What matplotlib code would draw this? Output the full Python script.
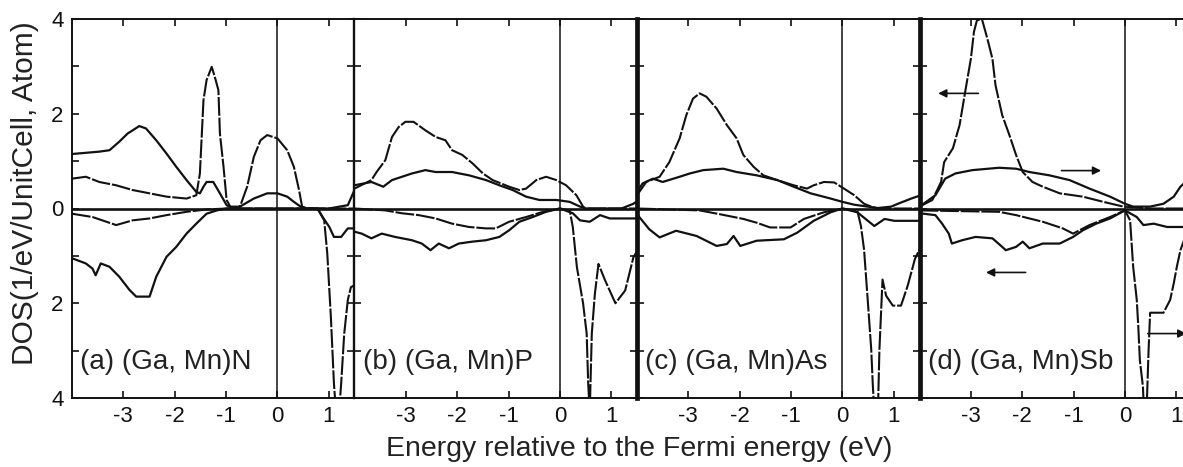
import matplotlib
matplotlib.use("Agg")
import matplotlib.pyplot as plt

plt.rcParams['font.family'] = ['Liberation Sans', 'DejaVu Sans']
plt.rcParams['axes.unicode_minus'] = False

# ---- panel (a) (Ga, Mn)N ----
a_up_tot_e = [-4.0, -3.47, -3.27, -3.08, -2.92, -2.69, -2.56, -2.36, -2.16, -1.97, -1.77, -1.58, -1.51, -1.44,
              -1.38, -1.25, -1.12, -0.99, -0.86, -0.73, -0.46, -0.2, 0.0, 0.19, 0.32, 0.45, 0.58, 1.0, 1.37, 1.5]
a_up_tot = [1.15, 1.2, 1.23, 1.41, 1.58, 1.74, 1.69, 1.44, 1.16, 0.88, 0.6, 0.35, 0.32, 0.46,
            0.56, 0.56, 0.32, 0.07, 0.0, 0.04, 0.21, 0.32, 0.32, 0.25, 0.14, 0.04, 0.0, 0.0, 0.07, 0.39]
a_up_mn_e = [-4.0, -3.73, -3.47, -3.14, -2.82, -2.49, -2.16, -1.77, -1.58, -1.51, -1.44, -1.38, -1.28, -1.22,
             -1.15, -1.12, -1.05, -0.99, -0.92, -0.73, -0.59, -0.46, -0.33, -0.2, 0.0, 0.19, 0.32, 0.42, 0.48, 0.58, 1.5]
a_up_mn = [0.63, 0.67, 0.56, 0.49, 0.39, 0.32, 0.25, 0.21, 0.28, 0.74, 2.29, 2.71, 2.99, 2.78,
           2.5, 1.58, 0.88, 0.18, 0.04, 0.04, 0.46, 1.09, 1.44, 1.55, 1.48, 1.23, 0.88, 0.39, 0.04, 0.0, 0.0]
a_dn_tot_e = [-4.0, -3.73, -3.6, -3.54, -3.44, -3.27, -3.08, -2.88, -2.75, -2.49, -2.36, -2.16, -1.97, -1.77,
              -1.58, -1.38, -1.18, -0.99, 0.78, 0.88, 1.01, 1.1, 1.24, 1.37, 1.5]
a_dn_tot = [-1.05, -1.16, -1.27, -1.41, -1.16, -1.23, -1.44, -1.72, -1.86, -1.86, -1.44, -1.02, -0.81, -0.53,
            -0.32, -0.11, -0.04, 0.0, 0.0, -0.18, -0.39, -0.6, -0.6, -0.42, -0.42]
a_dn_mn_e = [-4.0, -3.6, -3.14, -2.82, -2.49, -2.16, -1.77, -1.38, -0.99, 0.78, 0.91, 0.97, 1.04, 1.1,
             1.14, 1.2, 1.24, 1.3, 1.37, 1.43, 1.5]
a_dn_mn = [-0.11, -0.18, -0.35, -0.25, -0.21, -0.14, -0.07, -0.02, 0.0, 0.0, -0.25, -0.95, -2.29, -3.7,
           -4.3, -4.3, -3.7, -2.64, -1.93, -1.66, -1.62]

# ---- panel (b) (Ga, Mn)P ----
b_up_tot_e = [-4.0, -3.67, -3.44, -3.27, -2.88, -2.62, -2.42, -2.1, -1.77, -1.44, -1.18, -0.92, -0.66, -0.4,
              -0.07, 0.19, 0.39, 0.5, 1.2, 1.43, 1.5]
b_up_tot = [0.49, 0.56, 0.46, 0.6, 0.74, 0.81, 0.77, 0.77, 0.7, 0.6, 0.49, 0.39, 0.25, 0.18,
            0.18, 0.14, 0.04, 0.0, 0.0, 0.1, 0.15]
b_up_mn_e = [-4.0, -3.67, -3.57, -3.4, -3.27, -3.14, -3.01, -2.85, -2.62, -2.42, -2.23, -2.1, -1.9, -1.7,
             -1.5, -1.31, -0.99, -0.79, -0.66, -0.46, -0.27, -0.07, 0.12, 0.32, 0.45, 0.5, 1.5]
b_up_mn = [0.42, 0.6, 0.77, 1.02, 1.51, 1.72, 1.83, 1.83, 1.65, 1.51, 1.44, 1.23, 1.13, 0.95,
           0.74, 0.6, 0.46, 0.39, 0.42, 0.6, 0.67, 0.6, 0.49, 0.28, 0.04, 0.0, 0.0]
b_dn_tot_e = [-4.0, -3.86, -3.67, -3.47, -3.21, -2.88, -2.69, -2.52, -2.36, -2.16, -1.97, -1.71, -1.44, -1.18,
              -0.99, -0.79, -0.53, -0.27, 0.0, 0.25, 0.39, 0.58, 0.78, 0.97, 1.5]
b_dn_tot = [-0.49, -0.53, -0.63, -0.53, -0.6, -0.67, -0.74, -0.88, -0.74, -0.84, -0.74, -0.7, -0.67, -0.6,
            -0.46, -0.28, -0.18, -0.07, 0.0, -0.1, -0.25, -0.28, -0.14, -0.21, -0.21]
b_dn_mn_e = [-4.0, -3.4, -3.08, -2.75, -2.42, -2.1, -1.77, -1.44, -1.25, -0.99, -0.66, -0.33, 0.0, 0.19,
             0.25, 0.33, 0.45, 0.52, 0.55, 0.58, 0.62, 0.68, 0.75, 0.88, 1.08, 1.27, 1.43, 1.5]
b_dn_mn = [0.0, -0.04, -0.1, -0.14, -0.21, -0.32, -0.39, -0.42, -0.42, -0.28, -0.18, -0.07, 0.0, -0.04,
           -0.39, -1.24, -2.0, -2.64, -3.7, -4.3, -2.64, -1.8, -1.17, -1.52, -2.0, -1.73, -1.03, -0.9]

# ---- panel (c) (Ga, Mn)As ----
c_up_tot_e = [-4.0, -3.89, -3.69, -3.5, -3.17, -2.97, -2.71, -2.32, -2.06, -1.67, -1.27, -0.95, -0.62, -0.23,
              0.0, 0.23, 0.49, 0.69, 0.95, 1.08, 1.34, 1.5]
c_up_tot = [0.35, 0.53, 0.63, 0.56, 0.67, 0.74, 0.81, 0.84, 0.77, 0.7, 0.6, 0.46, 0.32, 0.21,
            0.14, 0.08, 0.04, 0.01, 0.04, 0.1, 0.21, 0.27]
c_up_mn_e = [-4.0, -3.82, -3.56, -3.37, -3.17, -3.04, -2.91, -2.78, -2.65, -2.45, -2.25, -2.06, -1.93, -1.73,
             -1.54, -1.27, -0.95, -0.69, -0.56, -0.36, -0.16, 0.03, 0.23, 0.42, 0.56, 0.69, 1.5]
c_up_mn = [0.28, 0.56, 0.67, 0.98, 1.48, 1.97, 2.32, 2.43, 2.36, 2.11, 1.76, 1.48, 1.13, 0.88,
           0.7, 0.6, 0.49, 0.42, 0.49, 0.56, 0.55, 0.42, 0.28, 0.1, 0.04, 0.0, 0.0]
c_dn_tot_e = [-4.0, -3.76, -3.56, -3.24, -2.84, -2.45, -2.25, -2.12, -1.99, -1.67, -1.14, -0.88, -0.56, -0.23,
              0.0, 0.29, 0.62, 0.82, 1.01, 1.5]
c_dn_tot = [-0.12, -0.44, -0.61, -0.47, -0.58, -0.79, -0.75, -0.58, -0.79, -0.68, -0.65, -0.51, -0.26, -0.08,
            0.0, -0.08, -0.37, -0.22, -0.26, -0.26]
c_dn_mn_e = [-4.0, -2.78, -2.39, -1.93, -1.67, -1.41, -1.01, -0.75, -0.36, 0.0, 0.29, 0.36, 0.42, 0.49,
             0.56, 0.59, 0.62, 0.69, 0.72, 0.78, 0.85, 0.98, 1.14, 1.27, 1.41, 1.5]
c_dn_mn = [0.0, -0.04, -0.12, -0.22, -0.3, -0.4, -0.4, -0.22, -0.08, 0.0, -0.05, -0.37, -0.86, -1.9,
           -2.97, -3.7, -4.3, -4.3, -2.97, -1.5, -1.84, -2.05, -2.05, -1.63, -1.07, -0.86]

# ---- panel (d) (Ga, Mn)Sb ----
d_up_tot_e = [-4.0, -3.69, -3.5, -3.3, -2.97, -2.45, -2.12, -1.86, -1.47, -1.08, -0.69, -0.29, 0.0, 0.16,
              0.49, 0.75, 0.95, 1.08, 1.15]
d_up_tot = [0.04, 0.28, 0.63, 0.74, 0.81, 0.86, 0.84, 0.77, 0.7, 0.6, 0.42, 0.25, 0.1, 0.04,
            0.04, 0.1, 0.25, 0.46, 0.53]
d_up_mn_e = [-4.0, -3.75, -3.58, -3.52, -3.35, -3.22, -3.1, -3.0, -2.94, -2.88, -2.78, -2.68, -2.58, -2.52,
             -2.39, -2.25, -2.12, -1.99, -1.8, -1.6, -1.27, -0.82, -0.42, -0.03, 0.5, 1.15]
d_up_mn = [0.04, 0.18, 0.56, 0.98, 1.27, 1.76, 2.53, 3.16, 3.73, 3.98, 3.98, 3.59, 3.16, 2.6,
           1.97, 1.55, 1.13, 0.77, 0.56, 0.46, 0.32, 0.25, 0.14, 0.04, 0.0, 0.0]
d_dn_tot_e = [-4.0, -3.69, -3.56, -3.43, -3.37, -3.17, -2.91, -2.58, -2.39, -2.32, -2.12, -1.99, -1.86, -1.6,
              -1.27, -1.01, -0.82, -0.56, -0.29, 0.0, 0.23, 0.36, 0.56, 0.82, 1.15]
d_dn_tot = [-0.1, -0.14, -0.32, -0.53, -0.74, -0.67, -0.6, -0.63, -0.81, -0.88, -0.81, -0.7, -0.84, -0.74,
            -0.74, -0.6, -0.46, -0.32, -0.21, -0.04, -0.18, -0.35, -0.32, -0.39, -0.39]
d_dn_mn_e = [-4.0, -2.45, -2.12, -1.6, -1.21, -1.01, -0.69, -0.29, 0.0, 0.1, 0.16, 0.23, 0.26, 0.29,
             0.35, 0.37, 0.42, 0.46, 0.49, 0.75, 0.88, 0.95, 1.01, 1.08, 1.15]
d_dn_mn = [-0.04, -0.07, -0.14, -0.28, -0.42, -0.53, -0.35, -0.18, -0.04, -0.25, -1.23, -1.93, -2.5, -3.2,
           -3.76, -4.3, -4.3, -2.99, -2.2, -2.2, -1.93, -1.58, -1.23, -0.88, -0.67]

labels = ["(a) (Ga, Mn)N", "(b) (Ga, Mn)P", "(c) (Ga, Mn)As", "(d) (Ga, Mn)Sb"]
panels = [
    (a_up_tot_e, a_up_tot, a_up_mn_e, a_up_mn, a_dn_tot_e, a_dn_tot, a_dn_mn_e, a_dn_mn),
    (b_up_tot_e, b_up_tot, b_up_mn_e, b_up_mn, b_dn_tot_e, b_dn_tot, b_dn_mn_e, b_dn_mn),
    (c_up_tot_e, c_up_tot, c_up_mn_e, c_up_mn, c_dn_tot_e, c_dn_tot, c_dn_mn_e, c_dn_mn),
    (d_up_tot_e, d_up_tot, d_up_mn_e, d_up_mn, d_dn_tot_e, d_dn_tot, d_dn_mn_e, d_dn_mn),
]
xticks = [-3, -2, -1, 0, 1]
yticks = [-4, -3, -2, -1, 0, 1, 2, 3, 4]
ytick_labels = ["4", "", "2", "", "0", "", "2", "", "4"]

W, H = 1183, 467
fig = plt.figure(figsize=(W / 100, H / 100), dpi=100)
left0 = 72 / W
pw = 282.5 / W
bottom = 69 / H
height = 379 / H
ink = "#111111"

for i, (ute, ut, ume, um, dte, dt, dme, dm) in enumerate(panels):
    ax = fig.add_axes([left0 + i * pw, bottom, pw, height])
    ax.plot(ute, ut, color=ink, lw=1.6)
    ax.plot(ume, um, color=ink, lw=1.5, dashes=(9, 0.9))
    ax.plot(dte, dt, color=ink, lw=1.6)
    ax.plot(dme, dm, color=ink, lw=1.5, dashes=(9, 0.9))
    ax.axhline(0, color=ink, lw=1.9)
    ax.axvline(0, color=ink, lw=1.1)
    ax.set_xlim(-4, 1.5)
    ax.set_ylim(-4, 4)
    ax.set_xticks(xticks)
    ax.set_xticklabels([str(t) for t in xticks])
    ax.set_yticks(yticks)
    if i == 0:
        ax.set_yticklabels(ytick_labels)
    else:
        ax.set_yticklabels([])
    ax.tick_params(direction="in", top=True, right=True, length=5, width=1.2,
                   labelsize=16, pad=6, colors=ink)
    for s in ax.spines.values():
        s.set_linewidth(1.4)
        s.set_color(ink)
    if i > 0:
        ax.spines["left"].set_linewidth(1.7 if i == 1 else 3.4)
    ax.text(0.03, 0.095, labels[i], transform=ax.transAxes, va="center", ha="left",
            fontsize=20, color="#222222")

    if i == 3:
        arrow = dict(arrowstyle="-|>", color=ink, lw=1.2, mutation_scale=12)
        ax.annotate("", xy=(-3.69, 2.43), xytext=(-2.8, 2.43), arrowprops=arrow)
        ax.annotate("", xy=(-0.41, 0.8), xytext=(-1.29, 0.8), arrowprops=arrow)
        ax.annotate("", xy=(-2.76, -1.35), xytext=(-1.88, -1.35), arrowprops=arrow)
        ax.annotate("", xy=(1.25, -2.64), xytext=(0.39, -2.64), arrowprops=arrow)

fig.text(25 / W, 1 - 193 / H, "DOS(1/eV/UnitCell, Atom)", rotation=90, ha="center", va="center",
         fontsize=21.5, color="#222222")
fig.text(639 / W, 1 - 449 / H, "Energy relative to the Fermi energy (eV)", ha="center", va="center",
         fontsize=20.5, color="#222222")

fig.savefig("out.png", dpi=100)
